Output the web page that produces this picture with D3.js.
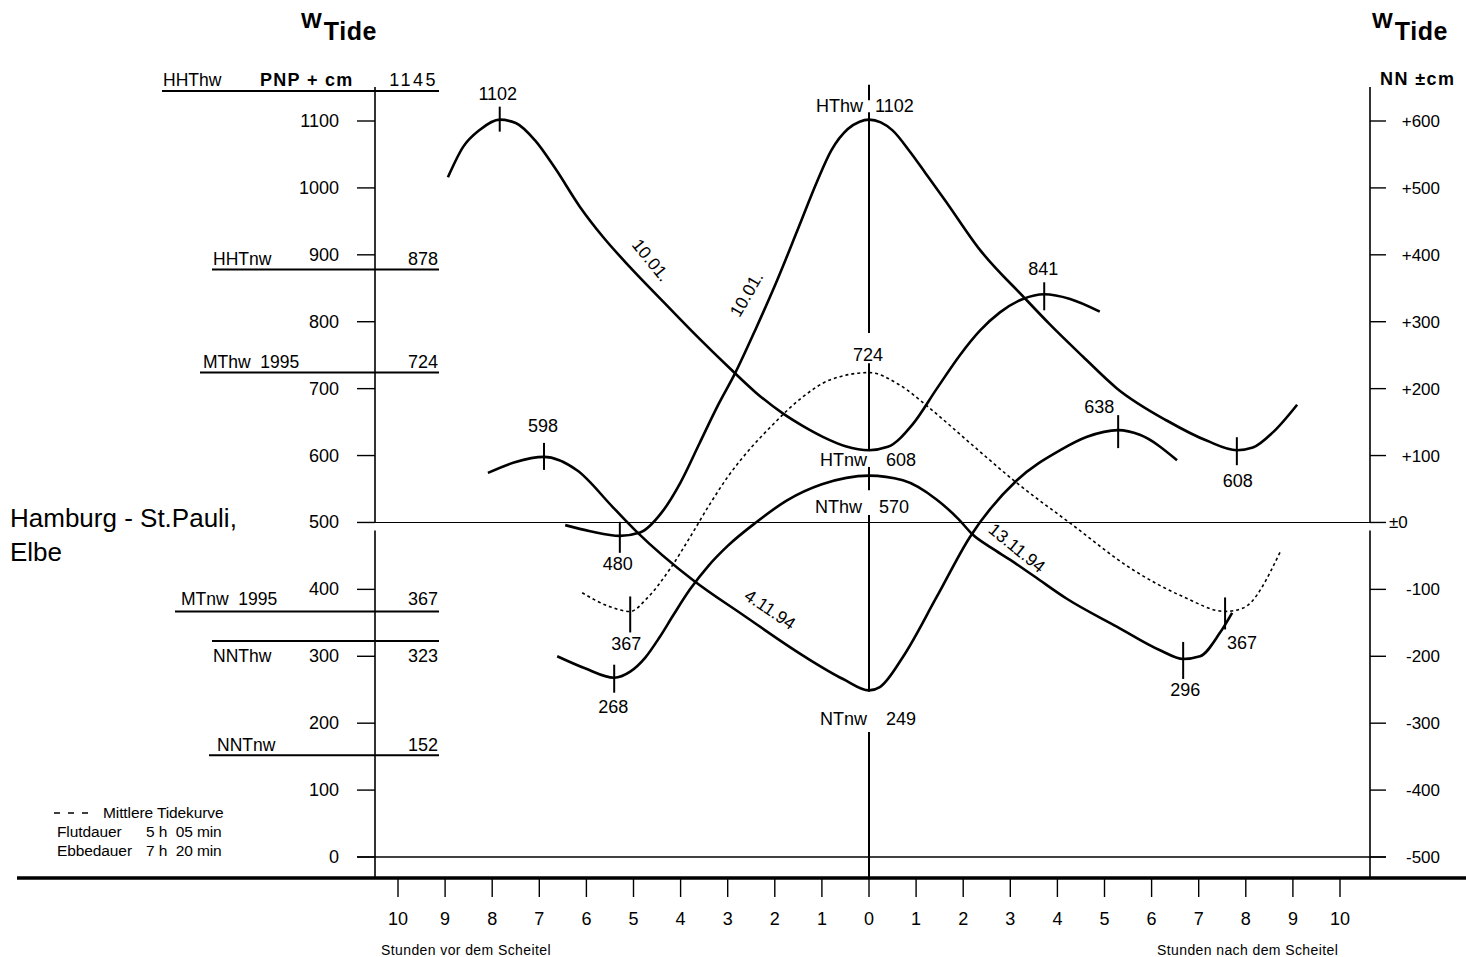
<!DOCTYPE html>
<html>
<head>
<meta charset="utf-8">
<script src="https://cdn.jsdelivr.net/npm/d3@7"></script>
<style>
  body { margin: 0; background: #fff; }
  text { font-family: "Liberation Sans", Arial, Helvetica, sans-serif; fill: #000; white-space: pre; }
</style>
</head>
<body>
<svg id="chart" width="1466" height="957"></svg>
<script>
// ---- Achsen ----------------------------------------------------------
const hourTicks = d3.range(-10, 11);                 // Stunden vor/nach dem Scheitel
const pnpTicks = d3.range(0, 1101, 100);              // PNP + cm
const nnTickLabels = ["-500", "-400", "-300", "-200", "-100", "±0",
                      "+100", "+200", "+300", "+400", "+500", "+600"];

// ---- Tidekurven: [Stunde relativ zum Scheitel, Wasserstand PNP + cm] --
const tide10JanFalling = [
  [-8.94, 1016], [-8.62, 1061], [-8.26, 1087], [-7.84, 1102], [-7.50, 1097],
  [-7.09, 1071], [-6.67, 1030], [-6.14, 972], [-5.65, 927], [-5.08, 882],
  [-4.37, 830], [-3.65, 778], [-2.95, 730], [-2.40, 694], [-1.83, 663],
  [-1.40, 644], [-0.98, 628], [-0.50, 614], [0, 608], [0.40, 613],
  [0.93, 647], [1.44, 700], [1.93, 750], [2.36, 787], [2.78, 814],
  [3.27, 834], [3.72, 841], [4.27, 834], [4.90, 815]
];
const tide10JanRising = [
  [-6.45, 496], [-5.92, 487], [-5.29, 480], [-4.86, 485], [-4.40, 515],
  [-4.00, 560], [-3.60, 618], [-3.20, 676], [-2.85, 722], [-2.40, 790],
  [-1.95, 862], [-1.50, 940], [-1.10, 1010], [-0.80, 1056], [-0.45, 1088],
  [-0.20, 1099], [0, 1102], [0.25, 1098], [0.50, 1086], [0.87, 1054],
  [1.20, 1022], [1.61, 982], [2.36, 907], [3.31, 835], [3.84, 796],
  [4.54, 748], [5.27, 700], [6.33, 652], [7.18, 622], [7.81, 608],
  [8.15, 612], [8.58, 635], [9.09, 676]
];
const tide4Nov94 = [
  [-8.09, 574], [-7.52, 590], [-6.90, 598], [-6.20, 578], [-5.44, 523],
  [-4.93, 486], [-3.74, 414], [-2.68, 362], [-1.40, 301], [-0.55, 266],
  [0, 249], [0.23, 254], [0.72, 299], [1.44, 389], [2.14, 478],
  [3.14, 563], [4.06, 608], [4.63, 628], [5.29, 638], [5.75, 631], [6.54, 593]
];
const tide13Nov94 = [
  [-6.62, 300], [-6.03, 282], [-5.41, 268], [-5.07, 277], [-4.75, 298],
  [-4.45, 328], [-4.15, 362], [-3.80, 400], [-3.40, 436], [-3.00, 465],
  [-2.40, 500], [-1.74, 533], [-1.00, 557], [0, 570], [0.72, 563],
  [1.44, 534], [1.90, 505], [2.20, 482], [2.60, 462], [3.00, 444],
  [3.50, 420], [4.20, 386], [5.27, 344], [6.18, 309], [6.67, 296],
  [7.03, 300], [7.45, 335], [7.71, 365]
];
const meanTide = [
  [-6.09, 395], [-5.50, 374], [-5.07, 367], [-4.71, 387], [-4.23, 430],
  [-3.80, 478], [-3.40, 525], [-3.00, 568], [-2.50, 612], [-2.10, 642],
  [-1.40, 688], [-0.83, 713], [0, 724], [0.66, 705], [1.25, 673],
  [2.14, 619], [3.14, 559], [4.27, 499], [5.61, 429], [6.67, 389],
  [7.56, 367], [7.94, 372], [8.73, 456]
];

// ---- Scheitelwerte der Kurven -----------------------------------------
const extremeHours  = [-7.84, -6.90, -5.29, -5.07, -5.41, 3.72, 5.29, 7.81, 6.67, 7.56];
const extremeValues = [1102, 598, 480, 367, 268, 841, 638, 608, 296, 367];

// Werte am Scheitel (Stunde 0)
const crestNames  = ["HThw", "", "HTnw", "NThw", "NTnw"];
const crestValues = [1102, 724, 608, 570, 249];

// Kennzeichnende Wasserstände (linke Skala)
const levelNames  = ["HHThw", "HHTnw", "MThw  1995", "MTnw  1995", "NNThw", "NNTnw"];
const levelValues = [1145, 878, 724, 367, 323, 152];

// Kurvenbeschriftungen
const curveNames = ["10.01.", "10.01.", "4.11.94", "13.11.94"];

// ---- Layout -----------------------------------------------------------
const svg = d3.select("#chart");
const x = d3.scaleLinear().domain([-10, 10]).range([398, 1340]);
const y = d3.scaleLinear().domain([0, 1100]).range([857, 121]);
const axisLeftX = 375, axisRightX = 1370, baseY = 878;

// label offsets [dx, dy] and tick extents [up, down] for the extreme marks
const extremeLayout = [
  { dx: -2, dy: -20, up: 13, down: 12 },
  { dx: -1, dy: -25, up: 14, down: 13 },
  { dx: -2, dy: 34, up: 14, down: 17 },
  { dx: -4, dy: 39, up: 15, down: 21 },
  { dx: -1, dy: 35, up: 13, down: 15 },
  { dx: -1, dy: -19, up: 12, down: 16 },
  { dx: -19, dy: -17, up: 15, down: 18 },
  { dx: 1, dy: 37, up: 13, down: 15 },
  { dx: 2, dy: 37, up: 17, down: 20 },
  { dx: 17, dy: 38, up: 14, down: 18 }
];
const curveNameLayout = [
  { h: -4.63, v: 892, angle: 51 },
  { h: -2.60, v: 841, angle: -60 },
  { h: -2.10, v: 370, angle: 34 },
  { h: 3.14, v: 462, angle: 39 }
];
const levelLayout = [
  { x0: 162, nameX: 163, dy: -5 },
  { x0: 212, nameX: 213, dy: -5 },
  { x0: 200, nameX: 203, dy: -5 },
  { x0: 175, nameX: 181, dy: -6 },
  { x0: 212, nameX: 213, dy: 21 },
  { x0: 209, nameX: 217, dy: -4 }
];

// ---- Hilfslinien ------------------------------------------------------
const g = svg.append("g");

// Grundlinie der Zeitachse
g.append("line").attr("x1", 17).attr("x2", 1466).attr("y1", baseY).attr("y2", baseY)
  .attr("stroke", "#000").attr("stroke-width", 3.5);

// linke und rechte Pegelachse (mit Lücke unter dem Nullniveau)
[axisLeftX, axisRightX].forEach(ax => {
  g.append("line").attr("x1", ax).attr("x2", ax).attr("y1", 87).attr("y2", y(500))
    .attr("stroke", "#000").attr("stroke-width", 1.6);
  g.append("line").attr("x1", ax).attr("x2", ax).attr("y1", y(500) + 8).attr("y2", baseY)
    .attr("stroke", "#000").attr("stroke-width", 1.6);
});

// Waagerechte bei PNP 0 und NN ±0
[0, 500].forEach(v => {
  g.append("line").attr("x1", 357).attr("x2", 1386).attr("y1", y(v)).attr("y2", y(v))
    .attr("stroke", "#000").attr("stroke-width", v === 0 ? 1.5 : 1.1);
});

// Skalenstriche links
g.selectAll(".tl").data(pnpTicks).join("line")
  .attr("x1", 357).attr("x2", axisLeftX).attr("y1", d => y(d)).attr("y2", d => y(d))
  .attr("stroke", "#000").attr("stroke-width", 1.4);
g.selectAll(".tlt").data(pnpTicks).join("text")
  .attr("x", 339).attr("y", d => y(d) + 6).attr("text-anchor", "end")
  .attr("font-size", 18).text(d => d);

// Skalenstriche rechts (NN ±cm)
g.selectAll(".tr").data(pnpTicks).join("line")
  .attr("x1", axisRightX).attr("x2", 1386).attr("y1", d => y(d)).attr("y2", d => y(d))
  .attr("stroke", "#000").attr("stroke-width", 1.4);
g.selectAll(".trt").data(pnpTicks).join("text")
  .attr("x", (d, i) => nnTickLabels[i] === "±0" ? 1389 : 1440)
  .attr("y", d => y(d) + 6)
  .attr("text-anchor", (d, i) => nnTickLabels[i] === "±0" ? "start" : "end")
  .attr("font-size", 17).text((d, i) => nnTickLabels[i]);

// Zeitachse
g.selectAll(".tx").data(hourTicks).join("line")
  .attr("x1", d => x(d)).attr("x2", d => x(d)).attr("y1", baseY).attr("y2", 897)
  .attr("stroke", "#000").attr("stroke-width", 1.4);
g.selectAll(".txt").data(hourTicks).join("text")
  .attr("x", d => x(d)).attr("y", 925).attr("text-anchor", "middle")
  .attr("font-size", 18).text(d => Math.abs(d));
g.append("text").attr("x", 381).attr("y", 955).attr("font-size", 14)
  .attr("letter-spacing", 0.4).text("Stunden vor dem Scheitel");
g.append("text").attr("x", 1157).attr("y", 955).attr("font-size", 14)
  .attr("letter-spacing", 0.4).text("Stunden nach dem Scheitel");

// Scheitellinie (Stunde 0), unterbrochen an den Beschriftungen
const crestLineSpans = [[1154, 1131], [1113, 783], [738, 608], [583, 548], [511, 247], [187, -31]];
g.selectAll(".cl").data(crestLineSpans).join("line")
  .attr("x1", x(0)).attr("x2", x(0))
  .attr("y1", d => y(d[0])).attr("y2", d => Math.min(y(d[1]), baseY))
  .attr("stroke", "#000").attr("stroke-width", 2);

// Kennzeichnende Wasserstände links
levelValues.forEach((v, i) => {
  const L = levelLayout[i];
  g.append("line").attr("x1", L.x0).attr("x2", 439).attr("y1", y(v)).attr("y2", y(v))
    .attr("stroke", "#000").attr("stroke-width", 2);
  g.append("text").attr("x", L.nameX).attr("y", y(v) + L.dy).attr("font-size", 17.5)
    .text(levelNames[i]);
  g.append("text").attr("x", 438).attr("y", y(v) + L.dy).attr("text-anchor", "end")
    .attr("font-size", 18).attr("letter-spacing", i === 0 ? 2.5 : 0).text(v);
});
g.append("text").attr("x", 260).attr("y", y(1145) - 5).attr("font-size", 18)
  .attr("font-weight", "bold").attr("letter-spacing", 1.3).text("PNP + cm");

// Achstitel
function wTide(xw, yb) {
  const t = g.append("text").attr("x", xw).attr("y", yb).attr("font-weight", "bold");
  t.append("tspan").attr("font-size", 22).text("W");
  t.append("tspan").attr("font-size", 25).attr("dy", 12).attr("dx", 2)
    .attr("letter-spacing", 0.6).text("Tide");
}
wTide(301, 28);
wTide(1372, 28);
g.append("text").attr("x", 1380).attr("y", 85).attr("font-size", 18)
  .attr("font-weight", "bold").attr("letter-spacing", 1.4).text("NN ±cm");

// Pegelname
g.append("text").attr("x", 10).attr("y", 527).attr("font-size", 26).text("Hamburg - St.Pauli,");
g.append("text").attr("x", 10).attr("y", 561).attr("font-size", 26).text("Elbe");

// Legende
g.append("line").attr("x1", 54).attr("x2", 90).attr("y1", 813).attr("y2", 813)
  .attr("stroke", "#000").attr("stroke-width", 1.3).attr("stroke-dasharray", "6,8");
const legendRows = [
  [103, 818, "Mittlere Tidekurve"],
  [57, 837, "Flutdauer"], [146, 837, "5 h  05 min"],
  [57, 856, "Ebbedauer"], [146, 856, "7 h  20 min"]
];
legendRows.forEach(r => {
  g.append("text").attr("x", r[0]).attr("y", r[1]).attr("font-size", 15.5)
    .attr("letter-spacing", -0.1).text(r[2]);
});

// ---- Kurven -----------------------------------------------------------
const line = d3.line().x(d => x(d[0])).y(d => y(d[1])).curve(d3.curveMonotoneX);
[tide10JanFalling, tide10JanRising, tide4Nov94, tide13Nov94].forEach(c => {
  g.append("path").attr("d", line(c)).attr("fill", "none")
    .attr("stroke", "#000").attr("stroke-width", 2.6).attr("stroke-linejoin", "round");
});
g.append("path").attr("d", line(meanTide)).attr("fill", "none")
  .attr("stroke", "#000").attr("stroke-width", 1.6).attr("stroke-dasharray", "3,3");

// Scheitelmarken mit Werten
extremeHours.forEach((h, i) => {
  const L = extremeLayout[i];
  const px = x(h), py = y(extremeValues[i]);
  g.append("line").attr("x1", px).attr("x2", px).attr("y1", py - L.up).attr("y2", py + L.down)
    .attr("stroke", "#000").attr("stroke-width", 2);
  g.append("text").attr("x", px + L.dx).attr("y", py + L.dy).attr("text-anchor", "middle")
    .attr("font-size", 18).text(extremeValues[i]);
});

// Werte am Scheitel
const crestLayout = [
  { nameEnd: 863, valStart: 875, dy: -8 },
  { nameEnd: 0, valStart: 853, dy: -12 },
  { nameEnd: 867, valStart: 886, dy: 16 },
  { nameEnd: 862, valStart: 879, dy: 37 },
  { nameEnd: 867, valStart: 886, dy: 35 }
];
crestValues.forEach((v, i) => {
  const L = crestLayout[i];
  const py = y(v) + L.dy;
  if (crestNames[i]) {
    g.append("text").attr("x", L.nameEnd).attr("y", py).attr("text-anchor", "end")
      .attr("font-size", 18).text(crestNames[i]);
  }
  g.append("text").attr("x", L.valStart).attr("y", py).attr("font-size", 18).text(v);
});

// Datum an den Kurven
curveNames.forEach((t, i) => {
  const L = curveNameLayout[i];
  g.append("text")
    .attr("transform", `translate(${x(L.h)},${y(L.v)}) rotate(${L.angle})`)
    .attr("text-anchor", "middle").attr("dominant-baseline", "central")
    .attr("font-size", 17.5).text(t);
});
</script>
</body>
</html>
